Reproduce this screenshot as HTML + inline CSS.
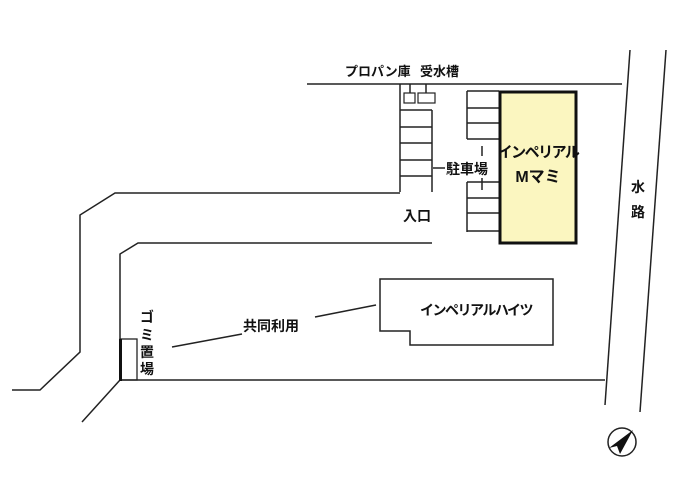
<!DOCTYPE html>
<html><head><meta charset="utf-8"><style>
html,body{margin:0;padding:0;background:#fff;}
svg{display:block}
text{font-family:"Liberation Sans","Noto Sans CJK JP",sans-serif;font-weight:bold;fill:#111}
</style></head><body>
<svg width="700" height="496" viewBox="0 0 700 496" xmlns="http://www.w3.org/2000/svg">
<g stroke="#222" stroke-width="1.5" fill="none">
<line x1="307" y1="84" x2="622" y2="84"/>
<line x1="400" y1="84" x2="400" y2="192"/>
<line x1="432" y1="110" x2="432" y2="192"/>
<line x1="400" y1="110" x2="432" y2="110"/>
<line x1="400" y1="127" x2="432" y2="127"/>
<line x1="400" y1="143" x2="432" y2="143"/>
<line x1="400" y1="160" x2="432" y2="160"/>
<line x1="400" y1="176" x2="432" y2="176"/>
<rect x="404" y="93" width="11" height="10" stroke-width="1.2"/>
<rect x="418" y="93" width="17" height="10" stroke-width="1.2"/>
<line x1="410" y1="84" x2="410" y2="93"/>
<line x1="426" y1="84" x2="426" y2="93"/>
<polyline points="400,193 115,193 80,215 80,352 40,390 12,390"/>
<polyline points="432,243 138,243 120,254 120,380 605,380"/>
<line x1="120" y1="380" x2="82" y2="422"/>
<line x1="467" y1="91" x2="467" y2="139"/>
<line x1="467" y1="182" x2="467" y2="232"/>
<line x1="467" y1="91" x2="499" y2="91"/>
<line x1="467" y1="108" x2="499" y2="108"/>
<line x1="467" y1="123" x2="499" y2="123"/>
<line x1="467" y1="139" x2="499" y2="139"/>
<line x1="467" y1="182" x2="499" y2="182"/>
<line x1="467" y1="198" x2="499" y2="198"/>
<line x1="467" y1="213" x2="499" y2="213"/>
<line x1="467" y1="231" x2="499" y2="231"/>
<line x1="482" y1="146" x2="482" y2="156"/>
<line x1="482" y1="178" x2="482" y2="190"/>
<line x1="433" y1="168" x2="445" y2="168"/>
<polygon points="380,279 553,279 553,345 410,345 410,331 380,331"/>
<line x1="172" y1="347" x2="242" y2="334"/>
<line x1="315" y1="317" x2="376" y2="305"/>
<line x1="630" y1="50" x2="605" y2="405"/>
<line x1="666" y1="50" x2="640" y2="412"/>
<circle cx="622" cy="442" r="14"/>
</g>
<rect x="120" y="339" width="17" height="41" fill="none" stroke="#222" stroke-width="1.3"/>
<line x1="120.5" y1="339" x2="120.5" y2="381" stroke="#111" stroke-width="3"/>
<rect x="500" y="92" width="76" height="151" fill="#fbf6c0" stroke="#111" stroke-width="3"/>
<polygon points="633,430 609,448 617,446 620,454" fill="#111"/>
<text x="345" y="76" font-size="13">プロパン庫</text>
<text x="420" y="76" font-size="13">受水槽</text>
<text x="446" y="174" font-size="14">駐車場</text>
<text x="403" y="221" font-size="14">入口</text>
<text x="538" y="157" font-size="15" text-anchor="middle" letter-spacing="-1.5">インペリアル</text>
<text x="538" y="182" font-size="16" text-anchor="middle">Mマミ</text>
<text x="476" y="315" font-size="14" text-anchor="middle" letter-spacing="-1.5">インペリアルハイツ</text>
<text x="243" y="331" font-size="14">共同利用</text>
<text x="147" y="322" font-size="14" text-anchor="middle">ゴ</text>
<text x="147" y="340" font-size="14" text-anchor="middle">ミ</text>
<text x="147" y="357" font-size="14" text-anchor="middle">置</text>
<text x="147" y="374" font-size="14" text-anchor="middle">場</text>
<text x="638" y="192" font-size="14" text-anchor="middle">水</text>
<text x="638" y="217" font-size="14" text-anchor="middle">路</text>
</svg>
</body></html>
